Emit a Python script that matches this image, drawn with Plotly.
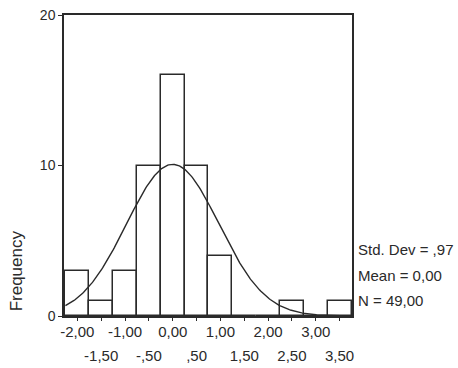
import numpy as np
import plotly.graph_objects as go

# Data
bin_centers = [-2.0, -1.5, -1.0, -0.5, 0.0, 0.5, 1.0, 1.5, 2.0, 2.5, 3.0, 3.5]
counts = [3, 1, 3, 10, 16, 10, 4, 0, 0, 1, 0, 1]
bin_width = 0.5
std_dev = 0.97
mean = 0.0
n_obs = 49
top_tick_vals = [-2, -1, 0, 1, 2, 3]
top_tick_text = ["-2,00", "-1,00", "0,00", "1,00", "2,00", "3,00"]
bot_tick_vals = [-1.5, -0.5, 0.5, 1.5, 2.5, 3.5]
bot_tick_text = ["-1,50", "-,50", ",50", "1,50", "2,50", "3,50"]
y_tick_vals = [0, 10, 20]
stats_lines = ["Std. Dev = ,97", "Mean = 0,00", "N = 49,00"]

FONT = "Liberation Sans, Arial, sans-serif"
INK = "#2a2a2a"

fig = go.Figure()
fig.add_trace(go.Bar(
    x=bin_centers, y=counts, width=bin_width,
    marker=dict(color="rgba(255,255,255,0)", line=dict(color=INK, width=1.5)),
    showlegend=False, hoverinfo="skip",
))

xs = np.linspace(-2.25, 3.75, 300)
ys = n_obs * bin_width / (std_dev * np.sqrt(2 * np.pi)) * np.exp(-0.5 * ((xs - mean) / std_dev) ** 2)
fig.add_trace(go.Scatter(x=xs, y=ys, mode="lines", line=dict(color=INK, width=1.4),
                         showlegend=False, hoverinfo="skip"))
# dummy trace for the second x axis
fig.add_trace(go.Scatter(x=[bin_centers[0]], y=[0], xaxis="x2", mode="markers",
                         marker=dict(opacity=0), showlegend=False, hoverinfo="skip"))

xr = [-2.28, 3.76]
fig.update_layout(
    width=458, height=368,
    margin=dict(l=64, r=106, t=15, b=52, autoexpand=False),
    paper_bgcolor="white", plot_bgcolor="white",
    font=dict(family=FONT, size=15, color=INK),
    bargap=0,
    xaxis=dict(range=xr, tickvals=top_tick_vals, ticktext=top_tick_text, automargin=False,
               showgrid=False, zeroline=False, showline=True, linecolor=INK, linewidth=1.5,
               mirror=True, ticks="", ticklabelstandoff=1, tickfont=dict(size=15, color=INK)),
    xaxis2=dict(range=xr, overlaying="x", side="bottom", tickvals=bot_tick_vals + top_tick_vals,
                ticktext=bot_tick_text + [""] * len(top_tick_vals), automargin=False,
                showgrid=False, zeroline=False, showline=False, ticks="outside", ticklen=4,
                tickcolor=INK, ticklabelstandoff=22, tickfont=dict(size=15, color=INK)),
    yaxis=dict(range=[0, 20], tickvals=y_tick_vals, showgrid=False, zeroline=False,
               automargin=False,
               showline=True, linecolor=INK, linewidth=1.5, mirror=True,
               ticks="outside", ticklen=4, tickcolor=INK, tickfont=dict(size=14, color=INK)),
)

fig.add_annotation(text="Frequency", textangle=-90, xref="paper", yref="paper",
                   x=-0.165, y=0.15, xanchor="center", yanchor="middle",
                   showarrow=False, font=dict(size=17, color=INK))

for i, line in enumerate(stats_lines):
    fig.add_annotation(text=line, xref="paper", yref="y", x=1.015, xanchor="left",
                       yanchor="middle", y=4.4 - i * 1.7, showarrow=False,
                       font=dict(size=15, color=INK))

fig.write_html("out.html")
